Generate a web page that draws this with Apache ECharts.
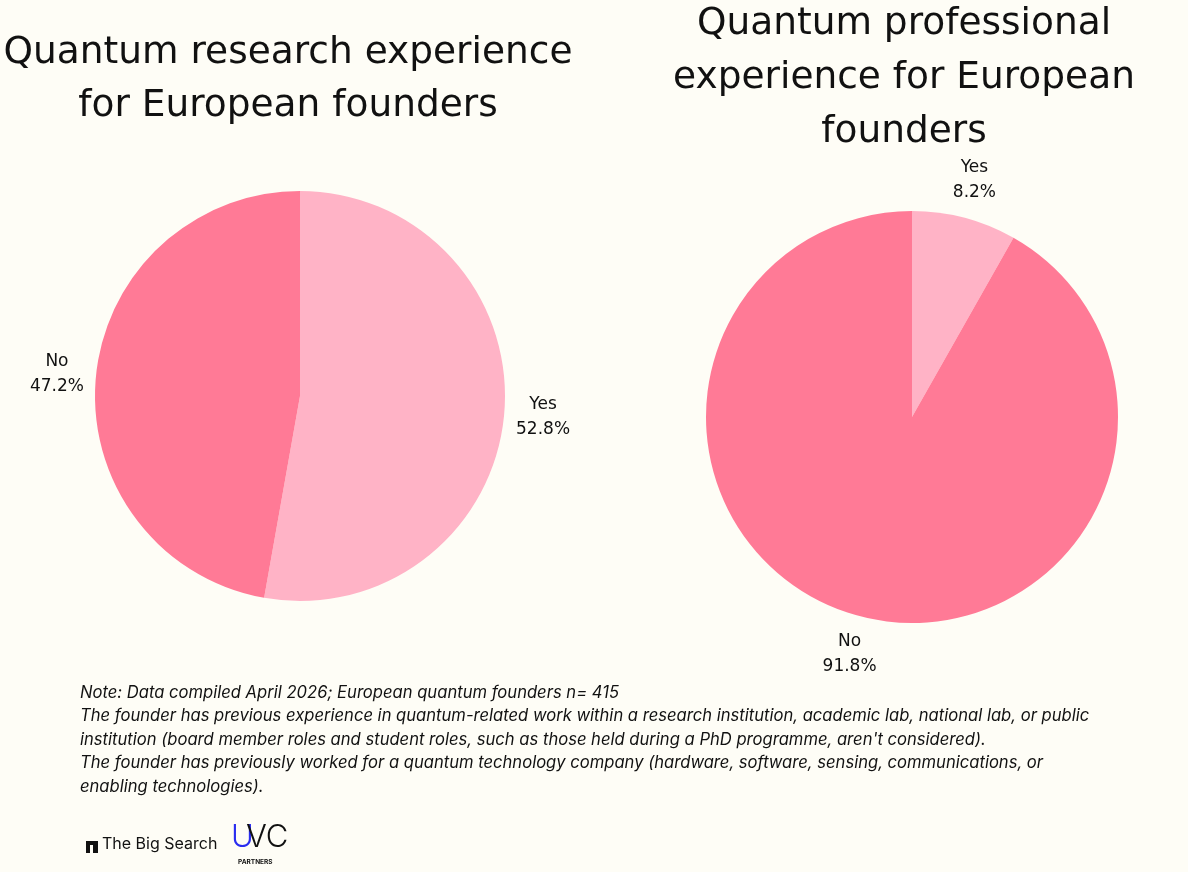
<!DOCTYPE html>
<html>
<head>
<meta charset="utf-8">
<title>Quantum founders experience</title>
<script src="https://cdn.jsdelivr.net/npm/echarts@6/dist/echarts.min.js"></script>
<style>
  html, body { margin: 0; padding: 0; background: #fefdf6; }
  #main { width: 1188px; height: 872px; }
</style>
</head>
<body>
<div id="main"></div>
<script>
// data
var categories = ['Yes', 'No'];
var researchValues = [52.8, 47.2];
var professionalValues = [8.2, 91.8];
var sliceColors = ['#ffb3c6', '#ff7a96'];

var titleLeft = 'Quantum research experience\nfor European founders';
var titleRight = 'Quantum professional\nexperience for European\nfounders';

var noteLines = [
    'Note: Data compiled April 2026; European quantum founders n= 415',
    'The founder has previous experience in quantum-related work within a research institution, academic lab, national lab, or public',
    'institution (board member roles and student roles, such as those held during a PhD programme, aren\'t considered).',
    'The founder has previously worked for a quantum technology company (hardware, software, sensing, communications, or',
    'enabling technologies).'
];

var myChart = echarts.init(document.getElementById('main'));

function toData(values) {
    return categories.map(function (name, i) {
        return { name: name, value: values[i], itemStyle: { color: sliceColors[i] } };
    });
}

// put the label centred on the end of the (invisible) radial line
function centreLabel(params) {
    var pts = params.labelLinePoints;
    if (!pts) return {};
    return { x: pts[1][0], y: pts[1][1], align: 'center', verticalAlign: 'middle' };
}

function pieSeries(values, center, radius) {
    return {
        type: 'pie',
        center: center,
        radius: radius,
        startAngle: 90,
        clockwise: true,
        avoidLabelOverlap: false,
        silent: true,
        data: toData(values),
        label: {
            show: true,
            position: 'outside',
            formatter: function (p) { return p.name + '\n' + p.value.toFixed(1) + '%'; },
            fontFamily: 'DejaVu Sans',
            fontSize: 17,
            lineHeight: 25,
            color: '#111'
        },
        labelLine: { show: true, length: 39, length2: 0, lineStyle: { opacity: 0 } },
        labelLayout: centreLabel
    };
}

var notes = noteLines.map(function (line, i) {
    return {
        type: 'text',
        left: 80,
        top: 684 + i * 23.6,
        style: {
            text: line,
            font: 'italic 16.6px Inter',
            fill: '#111'
        }
    };
});

var logos = [
    { type: 'rect', shape: { x: 86, y: 841, width: 4, height: 12 }, style: { fill: '#111' } },
    { type: 'rect', shape: { x: 86, y: 841, width: 12, height: 4 }, style: { fill: '#111' } },
    { type: 'rect', shape: { x: 93, y: 844, width: 5, height: 9 }, style: { fill: '#111' } },
    { type: 'text', left: 102, top: 836, style: { text: 'The Big Search', font: '16px Inter', fill: '#111' } },
    { type: 'text', left: 231, top: 822, style: { text: 'U', font: '300 31px Inter', fill: '#2a2df0' } },
    { type: 'text', left: 246, top: 822, style: { text: 'VC', font: '300 31px Inter', fill: '#111' } },
    { type: 'text', left: 238, top: 859, style: { text: 'PARTNERS', font: 'bold 6.5px Inter', fill: '#111' } }
];

var option = {
    backgroundColor: '#fefdf6',
    title: [
        {
            text: titleLeft,
            left: 283,
            top: 22,
            textAlign: 'center',
            textStyle: { fontFamily: 'DejaVu Sans', fontWeight: 'normal', fontSize: 37.5, lineHeight: 53, color: '#111' }
        },
        {
            text: titleRight,
            left: 899,
            top: -8,
            textAlign: 'center',
            textStyle: { fontFamily: 'DejaVu Sans', fontWeight: 'normal', fontSize: 37.5, lineHeight: 54, color: '#111' }
        }
    ],
    series: [
        pieSeries(researchValues, [300, 396], 205),
        pieSeries(professionalValues, [912, 417], 206)
    ],
    graphic: notes.concat(logos)
};

myChart.setOption(option);
</script>
</body>
</html>
